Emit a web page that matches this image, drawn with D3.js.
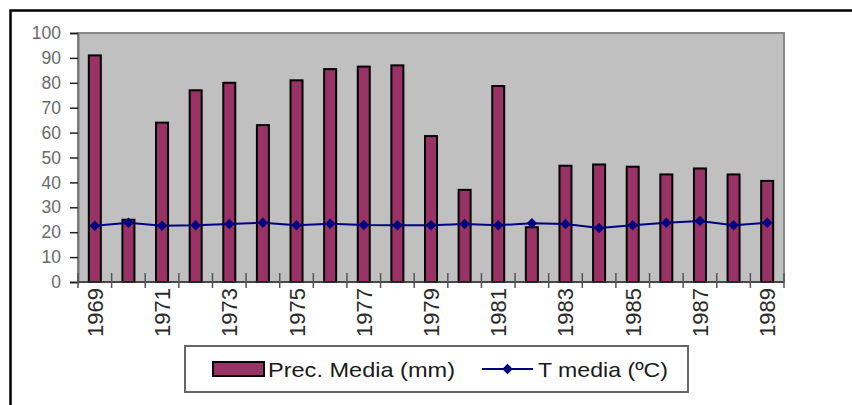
<!DOCTYPE html>
<html><head><meta charset="utf-8">
<script src="https://cdnjs.cloudflare.com/ajax/libs/d3/7.8.5/d3.min.js"></script>
<style>html,body{margin:0;padding:0;background:#fff;}svg{display:block;}</style>
</head><body>
<script>
const years = ["1969","1970","1971","1972","1973","1974","1975","1976","1977","1978","1979","1980","1981","1982","1983","1984","1985","1986","1987","1988","1989"];
const precMedia = [91, 25, 64, 77, 80, 63, 81, 85.5, 86.5, 87, 58.6, 37, 78.7, 22, 46.7, 47.2, 46.3, 43.2, 45.6, 43.2, 40.6];
const tMedia = [22.6, 23.8, 22.6, 22.8, 23.3, 23.8, 22.8, 23.4, 22.9, 22.8, 22.8, 23.3, 22.8, 23.6, 23.3, 21.7, 22.8, 23.8, 24.5, 22.8, 23.8];
const yTicks = [0,10,20,30,40,50,60,70,80,90,100];
const seriesNames = ["Prec. Media (mm)", "T media (\u00BAC)"];

const W = 852, H = 405;
const plot = {left: 78, right: 784, top: 33, bottom: 282};
const font = "'Liberation Sans', Arial, sans-serif";

const svg = d3.select("body").append("svg").attr("width", W).attr("height", H);

// outer frame (partially visible)
svg.append("path").attr("d", `M10.5,${H+5} L10.5,10.5 L${W+5},10.5`)
  .attr("fill","none").attr("stroke","#000").attr("stroke-width",2.5);

const x = d3.scaleBand().domain(years).range([plot.left, plot.right]).paddingInner(0).paddingOuter(0);
const y = d3.scaleLinear().domain([0,100]).range([plot.bottom, plot.top]);

// plot area
svg.append("rect").attr("x", plot.left).attr("y", plot.top)
  .attr("width", plot.right - plot.left).attr("height", plot.bottom - plot.top)
  .attr("fill", "#C0C0C0").attr("stroke", "#888").attr("stroke-width", 2);

// bars
const bw = 12;
svg.append("g").selectAll("rect").data(precMedia).join("rect")
  .attr("x", (d,i) => x(years[i]) + x.bandwidth()/2 - bw/2)
  .attr("y", d => y(d))
  .attr("width", bw)
  .attr("height", d => y(0) - y(d))
  .attr("fill", "#993366").attr("stroke", "#000").attr("stroke-width", 2);

// y axis
const yAxis = d3.axisLeft(y).tickValues(yTicks).tickSize(8).tickPadding(9);
const gy = svg.append("g").attr("transform", `translate(${plot.left},0)`).call(yAxis);
gy.select(".domain").attr("stroke", "#777").attr("stroke-width", 2);
gy.selectAll(".tick line").attr("stroke", "#222").attr("stroke-width", 1.5);
gy.selectAll(".tick text").attr("font-family", font).attr("font-size", 17.5).attr("fill", "#6a6a6a");

// x axis
const gx = svg.append("g").attr("transform", `translate(0,${plot.bottom})`);
gx.append("line").attr("x1", plot.left).attr("x2", plot.right).attr("y1",0).attr("y2",0)
  .attr("stroke", "#333").attr("stroke-width", 1.5);
const bounds = years.map(d => x(d)).concat([plot.right]);
gx.selectAll("line.tk").data(bounds).join("line").attr("class","tk")
  .attr("x1", d => d).attr("x2", d => d).attr("y1", -9).attr("y2", 6)
  .attr("stroke", "#555").attr("stroke-width", 1.5);
gx.selectAll("text").data(years.filter((d,i) => i % 2 === 0)).join("text")
  .attr("transform", d => `translate(${x(d) + x.bandwidth()/2 + 8},6) rotate(-90)`)
  .attr("text-anchor", "end")
  .attr("font-family", font).attr("font-size", 22).attr("fill", "#2a2a2a")
  .text(d => d);

// line
const line = d3.line().x((d,i) => x(years[i]) + x.bandwidth()/2).y(d => y(d));
svg.append("path").datum(tMedia).attr("d", line)
  .attr("fill","none").attr("stroke","#000080").attr("stroke-width",2);
const diamond = d3.symbol().type(d3.symbolDiamond2).size(70);
svg.append("g").selectAll("path").data(tMedia).join("path")
  .attr("transform", (d,i) => `translate(${x(years[i]) + x.bandwidth()/2},${y(d)})`)
  .attr("d", diamond).attr("fill", "#000080");

// legend
const lg = svg.append("g");
lg.append("rect").attr("x", 185).attr("y", 346).attr("width", 503).attr("height", 46)
  .attr("fill", "#fff").attr("stroke", "#666").attr("stroke-width", 2);
lg.append("rect").attr("x", 213).attr("y", 362).attr("width", 51).attr("height", 14)
  .attr("fill", "#993366").attr("stroke", "#000").attr("stroke-width", 2);
lg.append("text").attr("x", 268).attr("y", 377).attr("font-family", font).attr("font-size", 21)
  .attr("fill", "#1a1a1a").attr("textLength", 187).attr("lengthAdjust", "spacingAndGlyphs")
  .text(seriesNames[0]);
lg.append("line").attr("x1", 482).attr("x2", 533).attr("y1", 369).attr("y2", 369)
  .attr("stroke", "#000080").attr("stroke-width", 2);
lg.append("path").attr("transform", "translate(507.5,369)").attr("d", diamond).attr("fill", "#000080");
lg.append("text").attr("x", 538).attr("y", 377).attr("font-family", font).attr("font-size", 21)
  .attr("fill", "#1a1a1a").attr("textLength", 130).attr("lengthAdjust", "spacingAndGlyphs")
  .text(seriesNames[1]);
</script>
</body></html>
